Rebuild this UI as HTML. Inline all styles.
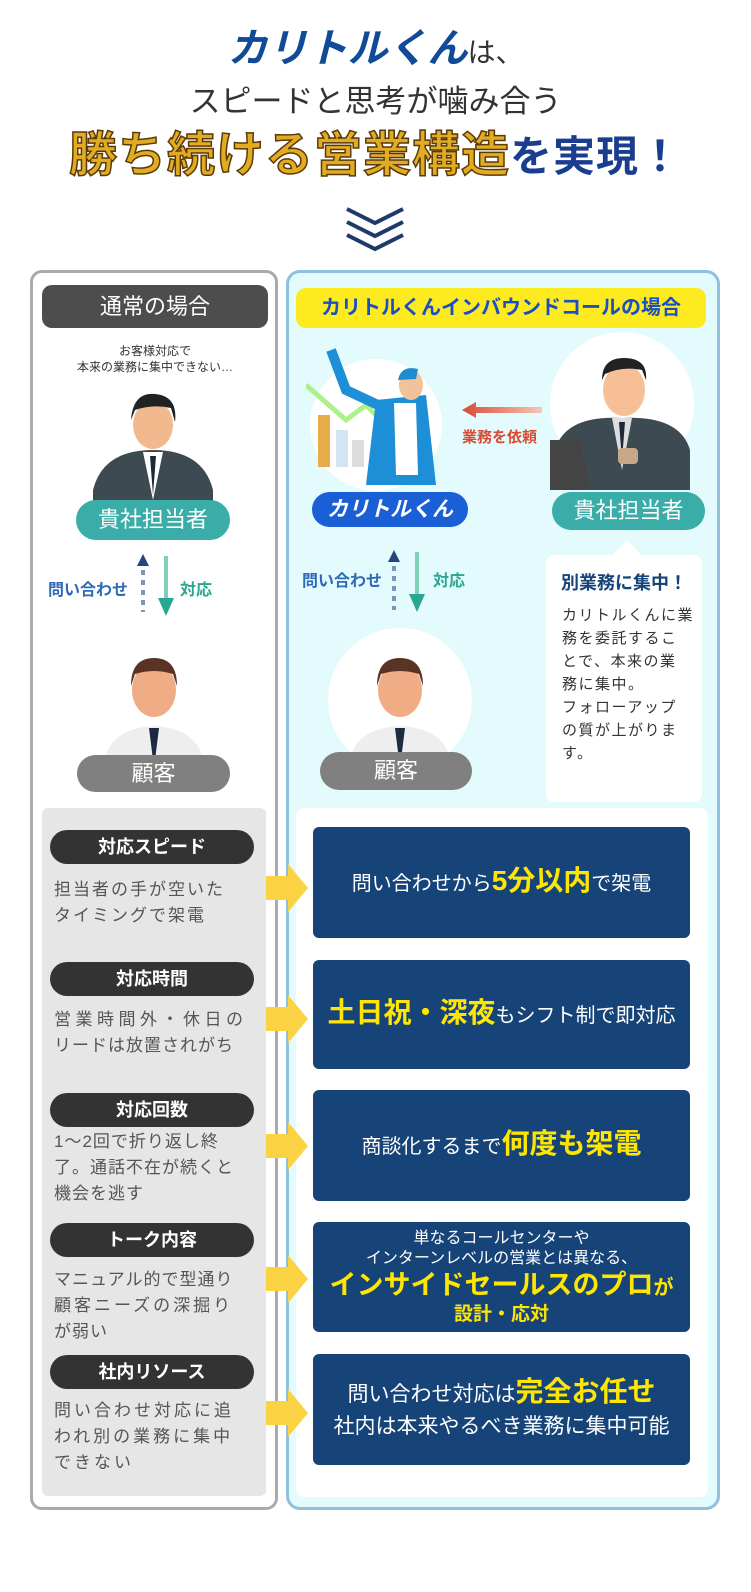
<!DOCTYPE html>
<html><head><meta charset="utf-8"><style>
*{margin:0;padding:0;box-sizing:border-box}
body{width:751px;height:1592px;background:#fff;position:relative;overflow:hidden;font-family:"Liberation Sans","Noto Sans CJK JP",sans-serif;color:#333}
.a{position:absolute}
.c{text-align:center;white-space:nowrap}
.pill{position:absolute;border-radius:20px;color:#fff;text-align:center;white-space:nowrap}
.lab{position:absolute;left:50px;width:204px;height:34px;border-radius:17px;background:#333;color:#fff;font-size:18px;font-weight:bold;text-align:center;line-height:34px}
.desc{position:absolute;left:54px;width:212px;font-size:17px;line-height:26px;color:#555;letter-spacing:2px;white-space:nowrap}
.box{position:absolute;left:313px;width:377px;background:#164479;border-radius:6px;color:#fff;text-align:center;display:flex;flex-direction:column;justify-content:center;align-items:center;font-size:20px;line-height:28px;white-space:nowrap}
.y{color:#ffe600;font-weight:bold;font-size:28px}
.arr{position:absolute;left:266px;width:42px;height:48px}
</style></head><body>

<div class="a c" style="left:0;width:751px;top:24px;font-size:28px;line-height:50px"><span style="color:#114a96;font-size:40px;font-weight:bold;font-style:italic">カリトルくん</span><span style="color:#333">は、</span></div>
<div class="a c" style="left:0;width:751px;top:82px;font-size:31px;line-height:40px;color:#333">スピードと思考が噛み合う</div>
<div class="a c" style="left:0;width:751px;top:128px;line-height:56px;font-weight:bold;letter-spacing:1px"><span style="font-size:48px;color:#e2ac22;-webkit-text-stroke:1.5px #5a3a08">勝ち続ける営業構造</span><span style="font-size:42px;color:#1a3d8f">を実現！</span></div>
<svg class="a" style="left:343px;top:205px" width="64" height="48" viewBox="0 0 64 48"><path d="M4 4 L32 18 L60 4 M4 17 L32 31 L60 17 M4 30 L32 44 L60 30" stroke="#1d3a6a" stroke-width="4" fill="none"/></svg>

<div class="a" style="left:30px;top:270px;width:248px;height:1240px;border:3px solid #aaa;border-radius:12px"></div>
<div class="a" style="left:286px;top:270px;width:434px;height:1240px;border:3px solid #8fc0de;border-radius:14px;background:#e3fbfd"></div>

<div class="pill" style="left:42px;top:285px;width:226px;height:43px;border-radius:10px;background:#4d4d4d;font-size:22px;line-height:43px">通常の場合</div>
<div class="pill" style="left:296px;top:288px;width:410px;height:40px;border-radius:10px;background:#fdeb1f;color:#1a4fc4;font-weight:bold;font-size:20px;line-height:40px">カリトルくんインバウンドコールの場合</div>

<div class="a c" style="left:40px;width:230px;top:343px;font-size:12px;line-height:16px;color:#333">お客様対応で<br>本来の業務に集中できない…</div>

<svg class="a" style="left:83px;top:370px" width="140" height="140"><circle cx="70" cy="70" r="68" fill="#fff"/><path d="M10 120 Q20 80 70 80 Q120 80 130 120 L130 140 L10 140Z" fill="#3d4a52"/><path d="M60 82 L70 130 L80 82Z" fill="#fff"/><path d="M67 86 L70 125 L73 86Z" fill="#1d2a36"/><ellipse cx="70" cy="55" rx="20" ry="24" fill="#f2b88e"/><path d="M48 50 Q50 22 72 24 Q95 26 92 52 L88 38 Q70 34 52 40Z" fill="#222"/></svg>
<div class="pill" style="left:76px;top:500px;width:154px;height:40px;background:#3aada8;font-size:22px;line-height:40px">貴社担当者</div>

<div class="a" style="left:48px;top:576px;color:#2f6ab8;font-weight:bold;font-size:16px">問い合わせ</div>
<div class="a" style="left:180px;top:576px;color:#2aa790;font-weight:bold;font-size:16px">対応</div>
<svg class="a" style="left:134px;top:552px" width="50" height="70"><path d="M9 2 L3 14 L15 14Z" fill="#24467c"/><path d="M9 18 V60" stroke="#7f95b8" stroke-width="4" stroke-dasharray="5 5"/><path d="M32 4 V48" stroke="#7fd0b8" stroke-width="4"/><path d="M24 46 L40 46 L32 64Z" fill="#2aa790"/></svg>

<svg class="a" style="left:83px;top:628px" width="142" height="142"><circle cx="71" cy="71" r="70" fill="#fff"/><path d="M22 130 Q30 100 71 98 Q112 100 120 130 L120 142 L22 142Z" fill="#eee"/><path d="M66 100 L71 140 L76 100Z" fill="#1d2a40"/><ellipse cx="71" cy="62" rx="22" ry="27" fill="#f0ad85"/><path d="M48 58 Q48 30 71 30 Q94 30 94 58 L90 46 Q71 40 52 46Z" fill="#5a3325"/></svg>
<div class="pill" style="left:77px;top:755px;width:153px;height:37px;background:#808080;font-size:22px;line-height:37px">顧客</div>

<svg class="a" style="left:306px;top:345px" width="160" height="150"><circle cx="70" cy="80" r="66" fill="#fff"/><path d="M0 40 L40 75 L60 60 L120 120" stroke="#aef08a" stroke-width="5" fill="none"/><rect x="12" y="70" width="12" height="52" fill="#e8ad4a"/><rect x="30" y="85" width="12" height="37" fill="#d2e6f2"/><rect x="46" y="95" width="12" height="27" fill="#ddd"/><path d="M70 55 L120 50 L130 140 L60 140Z" fill="#1d8fd6"/><path d="M88 58 L110 58 L112 130 L90 130Z" fill="#fff"/><ellipse cx="105" cy="40" rx="12" ry="15" fill="#f2c29a"/><path d="M92 35 Q95 20 112 24 L110 34Z" fill="#1e8cd0"/><path d="M25 5 L40 45 L72 60" stroke="#1d8fd6" stroke-width="10" fill="none"/></svg>
<div class="pill" style="left:312px;top:492px;width:156px;height:35px;background:#1a5fd6;font-size:21px;line-height:35px;font-weight:bold;font-style:italic">カリトルくん</div>
<svg class="a" style="left:462px;top:402px" width="80" height="16"><defs><linearGradient id="g" x1="0" x2="1"><stop offset="0" stop-color="#d94a33"/><stop offset="1" stop-color="#f6c7b8"/></linearGradient></defs><path d="M14 5 H80 V11 H14 V16 L0 8 L14 0Z" fill="url(#g)"/></svg>
<div class="a" style="left:462px;top:426px;color:#d94a33;font-weight:bold;font-size:15px">業務を依頼</div>

<svg class="a" style="left:550px;top:330px" width="146" height="160"><circle cx="72" cy="74" r="72" fill="#fff"/><path d="M5 120 Q15 85 72 88 Q130 85 140 120 L140 160 L5 160Z" fill="#3d4a52"/><path d="M62 88 L72 140 L82 88Z" fill="#ddd"/><path d="M69 92 L72 130 L75 92Z" fill="#1d2a36"/><ellipse cx="74" cy="60" rx="21" ry="26" fill="#f7bf96"/><path d="M52 50 Q52 28 74 28 Q98 28 96 50 L92 40 Q72 36 55 44Z" fill="#222"/><path d="M0 110 L30 110 L40 160 L0 160Z" fill="#444"/><rect x="68" y="118" width="20" height="16" rx="4" fill="#c9a88a"/></svg>
<div class="pill" style="left:552px;top:492px;width:153px;height:38px;background:#3aada8;font-size:22px;line-height:38px">貴社担当者</div>

<div class="a" style="left:546px;top:555px;width:156px;height:247px;background:#fff;border-radius:8px"></div>
<svg class="a" style="left:612px;top:540px" width="30" height="16"><path d="M0 16 L15 0 L30 16Z" fill="#fff"/></svg>
<div class="a c" style="left:546px;width:156px;top:569px;color:#164479;font-weight:bold;font-size:18px">別業務に集中！</div>
<div class="a" style="left:562px;top:604px;width:140px;font-size:15px;line-height:23px;color:#333;letter-spacing:1.5px;white-space:nowrap">カリトルくんに業<br>務を委託するこ<br>とで、本来の業<br>務に集中。<br>フォローアップ<br>の質が上がりま<br>す。</div>

<div class="a" style="left:302px;top:567px;color:#2f6ab8;font-weight:bold;font-size:16px">問い合わせ</div>
<div class="a" style="left:433px;top:567px;color:#2aa790;font-weight:bold;font-size:16px">対応</div>
<svg class="a" style="left:385px;top:548px" width="50" height="70"><path d="M9 2 L3 14 L15 14Z" fill="#24467c"/><path d="M9 18 V62" stroke="#7f95b8" stroke-width="4" stroke-dasharray="5 5"/><path d="M32 4 V48" stroke="#7fd0b8" stroke-width="4"/><path d="M24 46 L40 46 L32 64Z" fill="#2aa790"/></svg>

<svg class="a" style="left:328px;top:628px" width="144" height="144"><circle cx="72" cy="72" r="72" fill="#fff"/><path d="M22 130 Q30 100 72 98 Q114 100 122 130 L122 144 L22 144Z" fill="#eee"/><path d="M67 100 L72 140 L77 100Z" fill="#1d2a40"/><ellipse cx="72" cy="62" rx="22" ry="27" fill="#f0ad85"/><path d="M49 58 Q49 30 72 30 Q95 30 95 58 L91 46 Q72 40 53 46Z" fill="#5a3325"/></svg>
<div class="pill" style="left:320px;top:752px;width:152px;height:38px;background:#808080;font-size:22px;line-height:38px">顧客</div>

<div class="a" style="left:42px;top:808px;width:224px;height:688px;background:#e6e6e6;border-radius:6px"></div>
<div class="a" style="left:296px;top:808px;width:412px;height:689px;background:#fff;border-radius:8px"></div>

<div class="lab" style="top:830px">対応スピード</div>
<div class="desc" style="top:877px">担当者の手が空いた<br>タイミングで架電</div>
<div class="lab" style="top:962px">対応時間</div>
<div class="desc" style="top:1007px;letter-spacing:4.5px">営業時間外・休日の<br><span style="letter-spacing:1px">リードは放置されがち</span></div>
<div class="lab" style="top:1093px">対応回数</div>
<div class="desc" style="top:1129px;letter-spacing:1px">1～2回で折り返し終<br>了。通話不在が続くと<br>機会を逃す</div>
<div class="lab" style="top:1223px">トーク内容</div>
<div class="desc" style="top:1267px;letter-spacing:1px">マニュアル的で型通り<br><span style="letter-spacing:3px">顧客ニーズの深掘り</span><br>が弱い</div>
<div class="lab" style="top:1355px">社内リソース</div>
<div class="desc" style="top:1398px;letter-spacing:3px">問い合わせ対応に追<br>われ別の業務に集中<br>できない</div>

<div class="box" style="top:827px;height:111px">
<div>問い合わせから<span class="y">5分以内</span>で架電</div></div>
<div class="box" style="top:960px;height:109px">
<div><span class="y">土日祝・深夜</span>もシフト制で即対応</div></div>
<div class="box" style="top:1090px;height:111px">
<div>商談化するまで<span class="y">何度も架電</span></div></div>
<div class="box" style="top:1222px;height:110px;font-size:16px;line-height:20px">
<div>単なるコールセンターや</div><div>インターンレベルの営業とは異なる、</div><div class="y" style="line-height:32px;font-size:27px">インサイドセールスのプロ<span style="font-size:20px">が</span></div><div class="y" style="font-size:19px;line-height:22px">設計・応対</div></div>
<div class="box" style="top:1354px;height:111px;font-size:21px;line-height:32px">
<div>問い合わせ対応は<span class="y">完全お任せ</span></div><div>社内は本来やるべき業務に集中可能</div></div>

<svg class="arr" style="top:864px" viewBox="0 0 42 48"><path d="M0 12 H22 V0 L42 24 L22 48 V36 H0Z" fill="#fcd245"/></svg>
<svg class="arr" style="top:995px" viewBox="0 0 42 48"><path d="M0 12 H22 V0 L42 24 L22 48 V36 H0Z" fill="#fcd245"/></svg>
<svg class="arr" style="top:1122px" viewBox="0 0 42 48"><path d="M0 12 H22 V0 L42 24 L22 48 V36 H0Z" fill="#fcd245"/></svg>
<svg class="arr" style="top:1255px" viewBox="0 0 42 48"><path d="M0 12 H22 V0 L42 24 L22 48 V36 H0Z" fill="#fcd245"/></svg>
<svg class="arr" style="top:1389px" viewBox="0 0 42 48"><path d="M0 12 H22 V0 L42 24 L22 48 V36 H0Z" fill="#fcd245"/></svg>

</body></html>
